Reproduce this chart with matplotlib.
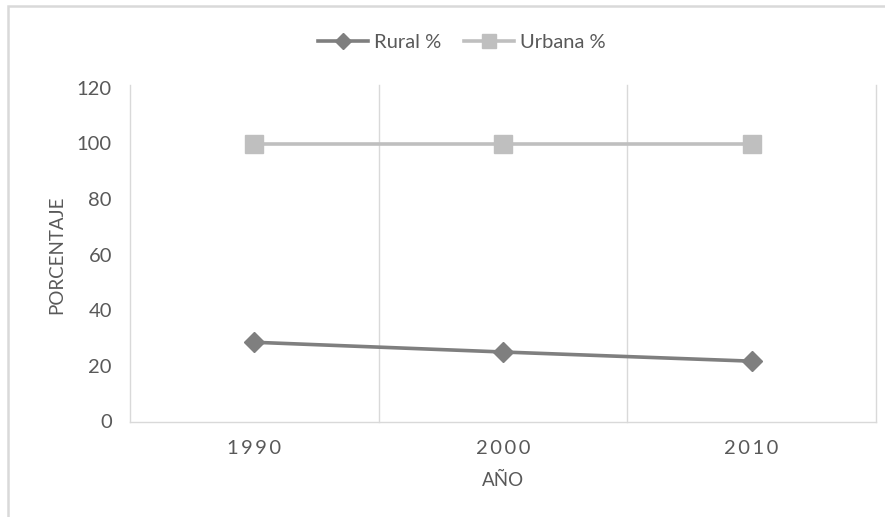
import matplotlib
matplotlib.use("Agg")
import matplotlib.pyplot as plt
from matplotlib.patches import Rectangle
from matplotlib.lines import Line2D

plt.rcParams['font.family'] = ['Lato', 'DejaVu Sans']

years = ["1990", "2000", "2010"]
rural = [28.5, 25.0, 21.7]
urbana = [100, 100, 100]
y_ticks = [0, 20, 40, 60, 80, 100, 120]

text_color = "#595959"
grid_color = "#d9d9d9"
rural_color = "#7f7f7f"
urbana_color = "#bfbfbf"

fig = plt.figure(figsize=(8.85, 5.17), dpi=100)
ax = fig.add_axes([130 / 885, 1 - 421.5 / 517, (876 - 130) / 885, (421.5 - 87.9) / 517])

x = list(range(len(years)))
ax.plot(x, rural, color=rural_color, lw=2.6, marker="D", markersize=10.5,
        markerfacecolor=rural_color, markeredgecolor=rural_color, label="Rural %",
        zorder=3, clip_on=False)
ax.plot(x, urbana, color=urbana_color, lw=2.6, marker="s", markersize=12.5,
        markerfacecolor=urbana_color, markeredgecolor=urbana_color, label="Urbana %",
        zorder=3, clip_on=False)

ax.set_xlim(-0.5, len(years) - 0.5)
ax.set_ylim(0, 120)
ax.set_yticks(y_ticks)
ax.set_yticklabels([str(v) for v in y_ticks])
ax.set_xticks(x)
ax.set_xticklabels(["\u2009".join(list(y)) for y in years])

# category boundaries as vertical gridlines, reaching slightly above the top
for b in [i + 0.5 for i in range(len(years))]:
    ax.plot([b, b], [0, 121], color=grid_color, lw=1.0, zorder=1, clip_on=False)

for side in ["top", "right"]:
    ax.spines[side].set_visible(False)
for side in ["left", "bottom"]:
    ax.spines[side].set_color(grid_color)
    ax.spines[side].set_linewidth(1.0)
ax.spines["left"].set_bounds(0, 121)

ax.tick_params(axis="both", length=0, colors=text_color, labelsize=14.5)
ax.tick_params(axis="y", pad=13)
ax.tick_params(axis="x", pad=13)

ax.set_ylabel("PORCENTAJE", color=text_color, fontsize=13.5, labelpad=8)
ax.set_xlabel("AÑO", color=text_color, fontsize=13.5, labelpad=11)

handles = [
    Line2D([], [], color=rural_color, lw=2.6, marker="D", markersize=8.5),
    Line2D([], [], color=urbana_color, lw=2.6, marker="s", markersize=10),
]
fig.legend(handles, ["Rural %", "Urbana %"], loc="center",
           bbox_to_anchor=(0.522, 1 - 42 / 517), ncol=2, frameon=False,
           fontsize=14.5, labelcolor=text_color, handlelength=2.5,
           handletextpad=0.3, columnspacing=1.1)

# chart frame
fig.patches.append(Rectangle((7.5 / 885, -0.05), 1.0, 1 - 5.5 / 517 + 0.05,
                             transform=fig.transFigure, fill=False,
                             edgecolor=grid_color, lw=1.8))

fig.savefig("out.png", dpi=100, facecolor="white")
